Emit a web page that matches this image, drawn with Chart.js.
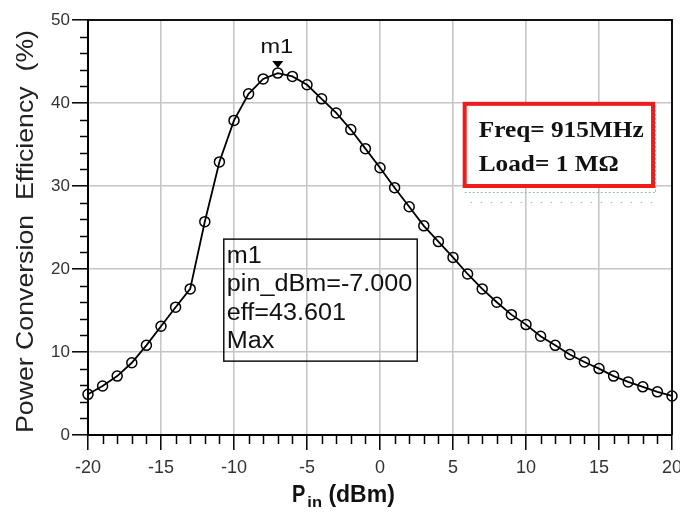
<!DOCTYPE html>
<html>
<head>
<meta charset="utf-8">
<script src="https://cdn.jsdelivr.net/npm/chart.js@4.4.1/dist/chart.umd.min.js"></script>
<style>
  html, body { margin: 0; padding: 0; background: #fff; }
  #c { display: block; }
</style>
</head>
<body>
<canvas id="c" width="680" height="512"></canvas>
<script>
// Input power sweep (dBm) and measured power conversion efficiency (%)
const pinDbm = [-20, -19, -18, -17, -16, -15, -14, -13, -12, -11, -10, -9, -8, -7, -6, -5, -4, -3, -2, -1,
                0, 1, 2, 3, 4, 5, 6, 7, 8, 9, 10, 11, 12, 13, 14, 15, 16, 17, 18, 19, 20];
const efficiency = [4.9, 5.9, 7.1, 8.7, 10.8, 13.1, 15.4, 17.6, 25.7, 32.9, 37.9, 41.1, 42.9, 43.601, 43.2,
                    42.2, 40.5, 38.8, 36.8, 34.5, 32.2, 29.8, 27.5, 25.2, 23.3, 21.4, 19.4, 17.6, 16.0, 14.5,
                    13.3, 11.9, 10.8, 9.7, 8.8, 8.0, 7.1, 6.4, 5.8, 5.2, 4.7];

// Axis ranges and tick spacing
const xRange = [-20, 20];
const yRange = [0, 50];
const xMajorStep = 5, xMinorStep = 1;
const yMajorStep = 10, yMinorStep = 2;

// Marker m1 (maximum of the efficiency curve)
const markerName = 'm1';
const markerX = -7;
const markerY = efficiency[pinDbm.indexOf(markerX)];
const markerLines = [markerName, 'pin_dBm=' + markerX.toFixed(3), 'eff=' + markerY.toFixed(3), 'Max'];

// Simulation conditions
const conditionLines = ['Freq= 915MHz', 'Load= 1 M\u03A9'];

const yTitle = 'Power Conversion  Efficiency  (%)';

const points = pinDbm.map((x, i) => ({ x: x, y: efficiency[i] }));

// Draw text stretched horizontally by a factor
function stretchText(ctx, text, x, y, sx) {
  ctx.save();
  ctx.translate(x, y);
  ctx.scale(sx, 1);
  ctx.fillText(text, 0, 0);
  ctx.restore();
  return ctx.measureText(text).width * sx;
}

const decor = {
  id: 'decor',
  afterDraw(chart) {
    const ctx = chart.ctx;
    const a = chart.chartArea;
    const xs = chart.scales.x, ys = chart.scales.y;

    ctx.save();
    // minor ticks
    ctx.strokeStyle = '#000';
    ctx.lineWidth = 1.5;
    ctx.beginPath();
    for (let v = xRange[0]; v <= xRange[1]; v += xMinorStep) {
      if (v % xMajorStep === 0) continue;
      const px = Math.round(xs.getPixelForValue(v)) + 0.5;
      ctx.moveTo(px, a.bottom);
      ctx.lineTo(px, a.bottom + 9);
    }
    for (let v = yRange[0]; v <= yRange[1]; v += yMinorStep) {
      if (v % yMajorStep === 0) continue;
      const py = Math.round(ys.getPixelForValue(v)) + 0.5;
      ctx.moveTo(a.left - 8, py);
      ctx.lineTo(a.left, py);
    }
    ctx.stroke();

    // top and right frame
    ctx.lineWidth = 2;
    ctx.strokeStyle = '#111';
    ctx.beginPath();
    ctx.moveTo(a.left, a.top);
    ctx.lineTo(a.right, a.top);
    ctx.lineTo(a.right, a.bottom);
    ctx.stroke();

    // marker triangle and name
    const mx = xs.getPixelForValue(markerX);
    const my = ys.getPixelForValue(markerY);
    ctx.fillStyle = '#000';
    ctx.beginPath();
    ctx.moveTo(mx - 5.5, my - 12);
    ctx.lineTo(mx + 5.5, my - 12);
    ctx.lineTo(mx, my - 5);
    ctx.closePath();
    ctx.fill();
    ctx.font = '21px "Liberation Sans", Arial, sans-serif';
    ctx.fillStyle = '#111';
    ctx.textAlign = 'left';
    ctx.textBaseline = 'alphabetic';
    const mw = ctx.measureText(markerName).width * 1.12;
    stretchText(ctx, markerName, mx - 1 - mw / 2, my - 20, 1.12);

    // marker readout box
    const bx0 = xs.getPixelForValue(-10.7), bx1 = xs.getPixelForValue(2.55);
    const by0 = ys.getPixelForValue(23.6), by1 = ys.getPixelForValue(8.9);
    ctx.strokeStyle = '#111';
    ctx.lineWidth = 1.5;
    ctx.strokeRect(bx0, by0, bx1 - bx0, by1 - by0);
    ctx.font = '23px "Liberation Sans", Arial, sans-serif';
    ctx.fillStyle = '#111';
    const base0 = by0 + 24;
    markerLines.forEach((t, i) => stretchText(ctx, t, bx0 + 3, base0 + i * 28.3, 1.095));

    // conditions box
    const rx0 = xs.getPixelForValue(5.8), rx1 = xs.getPixelForValue(18.7);
    const ry0 = ys.getPixelForValue(39.9), ry1 = ys.getPixelForValue(30.0);
    // faint dotted guide lines around the box
    ctx.strokeStyle = '#9fb3c8';
    ctx.lineWidth = 1;
    ctx.setLineDash([2, 2]);
    ctx.beginPath();
    ctx.moveTo(rx0, ry1 + 6.5); ctx.lineTo(rx1 + 2, ry1 + 6.5);
    ctx.moveTo(rx1 + 2.5, ry0 + 2); ctx.lineTo(rx1 + 2.5, ry1 + 6);
    ctx.stroke();
    ctx.setLineDash([1.5, 8.5]);
    ctx.beginPath();
    ctx.moveTo(rx0 + 6, ry1 + 16.5); ctx.lineTo(rx1, ry1 + 16.5);
    ctx.stroke();
    ctx.setLineDash([]);
    ctx.fillStyle = '#fff';
    ctx.fillRect(rx0, ry0, rx1 - rx0, ry1 - ry0);
    ctx.strokeStyle = '#ee1c1c';
    ctx.lineWidth = 4;
    ctx.strokeRect(rx0, ry0, rx1 - rx0, ry1 - ry0);
    ctx.fillStyle = '#111';
    ctx.font = 'bold 23px "Liberation Serif", "Times New Roman", serif';
    stretchText(ctx, conditionLines[0], rx0 + 14, ry0 + 33, 1.1);
    stretchText(ctx, conditionLines[1], rx0 + 14, ry0 + 67, 1.1);

    // y axis title
    ctx.save();
    ctx.translate(33, (a.top + a.bottom) / 2 + 4);
    ctx.rotate(-Math.PI / 2);
    ctx.font = '24px "Liberation Sans", Arial, sans-serif';
    ctx.fillStyle = '#222';
    const tw = ctx.measureText(yTitle).width;
    const target = 403;
    ctx.scale(target / tw, 1);
    ctx.fillText(yTitle, -tw / 2, 0);
    ctx.restore();

    // x axis title with subscript
    ctx.fillStyle = '#111';
    const xb = 502;
    let cx = 292;
    ctx.font = 'bold 23px "Liberation Sans", Arial, sans-serif';
    cx += stretchText(ctx, 'P', cx, xb, 0.87);
    ctx.font = 'bold 15px "Liberation Sans", Arial, sans-serif';
    cx += stretchText(ctx, 'in', cx + 2, xb + 5, 1.1) + 2;
    ctx.font = 'bold 23px "Liberation Sans", Arial, sans-serif';
    stretchText(ctx, ' (dBm)', cx, xb, 1.0);
    ctx.restore();
  }
};

new Chart(document.getElementById('c'), {
  type: 'line',
  data: {
    datasets: [{
      data: points,
      borderColor: '#000',
      borderWidth: 1.8,
      tension: 0,
      fill: false,
      clip: false,
      pointStyle: 'circle',
      pointRadius: 5,
      pointBorderWidth: 1.5,
      pointBorderColor: '#000',
      pointBackgroundColor: 'rgba(0,0,0,0)'
    }]
  },
  options: {
    responsive: false,
    devicePixelRatio: 1,
    animation: false,
    layout: { padding: { top: 20, right: 8, left: 0, bottom: 0 } },
    plugins: { legend: { display: false }, tooltip: { enabled: false } },
    scales: {
      x: {
        type: 'linear',
        min: xRange[0], max: xRange[1],
        afterFit(s) { s.height = 77; s.paddingLeft = 0; s.paddingRight = 0; },
        ticks: { stepSize: xMajorStep, padding: 7, color: '#333', maxRotation: 0,
                 font: { family: '"Liberation Sans", Arial, sans-serif', size: 18 } },
        grid: { color: '#c6c6c6', lineWidth: 1.6, tickLength: 15, tickColor: '#000', tickWidth: 1.5 },
        border: { color: '#000', width: 2 }
      },
      y: {
        type: 'linear',
        min: yRange[0], max: yRange[1],
        afterFit(s) { s.width = 88; s.paddingTop = 0; s.paddingBottom = 0; },
        ticks: { stepSize: yMajorStep, padding: 2, color: '#333',
                 font: { family: '"Liberation Sans", Arial, sans-serif', size: 17 } },
        grid: { color: '#c6c6c6', lineWidth: 1.6, tickLength: 16, tickColor: '#000', tickWidth: 1.5 },
        border: { color: '#000', width: 2 }
      }
    }
  },
  plugins: [decor]
});
</script>
</body>
</html>
